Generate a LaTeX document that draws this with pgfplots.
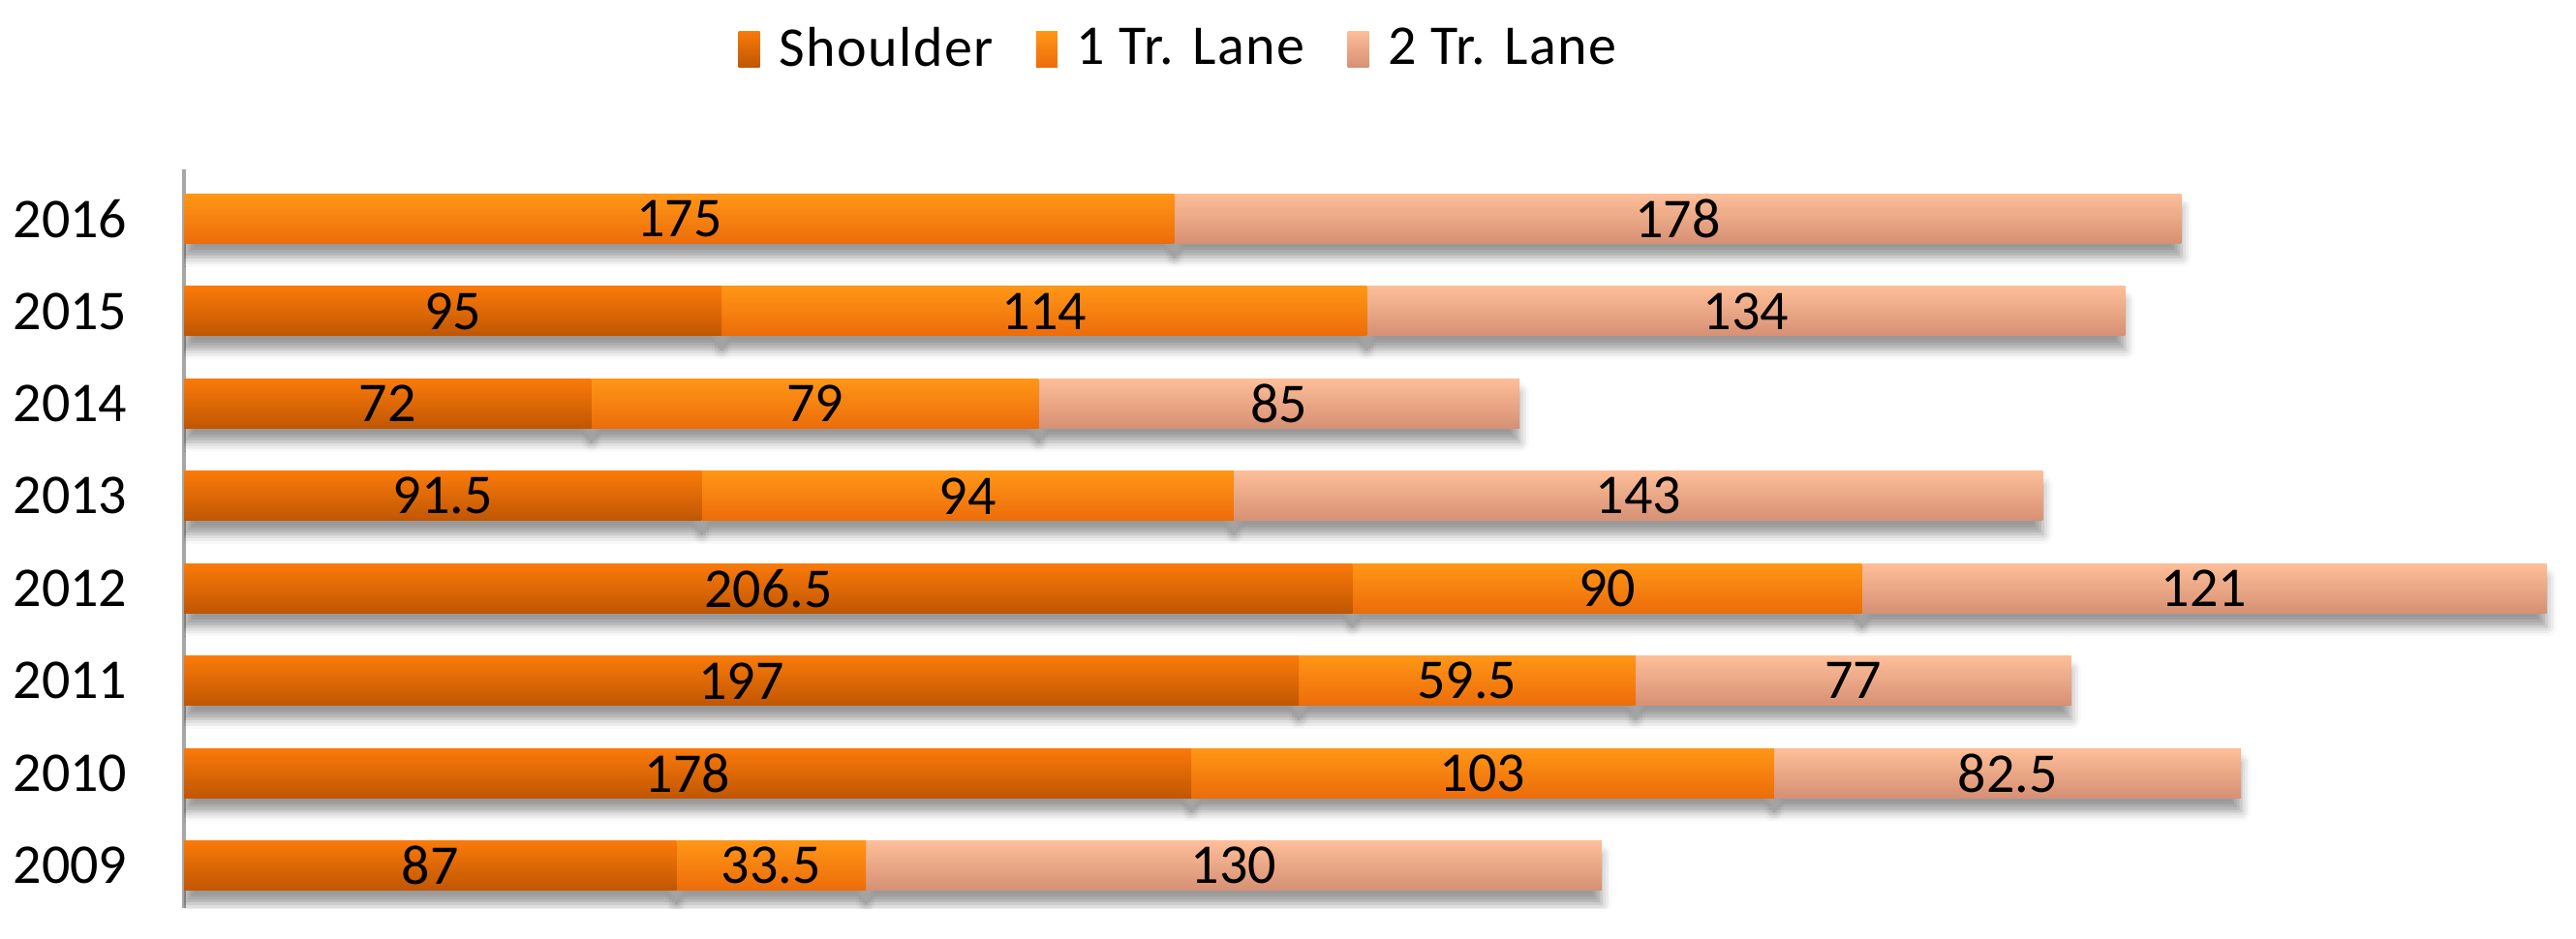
\documentclass[border=0pt]{standalone}
\usepackage{fontspec}
\setmainfont{Carlito}
\newfontfamily\legfont[LetterSpace=2.5]{Carlito}
\usepackage{pgfplots}
\usepackage{pgfplotstable}
\pgfplotsset{compat=1.18}
\usetikzlibrary{shadows.blur}

\definecolor{shTop}{RGB}{250,122,10}
\definecolor{shMid}{RGB}{228,106,8}
\definecolor{shBot}{RGB}{192,86,2}
\definecolor{laTop}{RGB}{255,150,22}
\definecolor{laMid}{RGB}{252,130,16}
\definecolor{laBot}{RGB}{236,108,10}
\definecolor{lbTop}{RGB}{253,190,152}
\definecolor{lbMid}{RGB}{248,172,136}
\definecolor{lbBot}{RGB}{214,144,116}
\definecolor{axgray}{RGB}{166,166,166}

\tikzset{
  shoulder/.style={top color=shTop, middle color=shMid, bottom color=shBot, draw=none},
  lane1/.style={top color=laTop, middle color=laMid, bottom color=laBot, draw=none},
  lane2/.style={top color=lbTop, middle color=lbMid, bottom color=lbBot, draw=none},
  barshadow/.style={draw=none, fill=white,
    blur shadow={shadow xshift=0pt, shadow yshift=-3.5pt, shadow blur radius=2.5pt, shadow opacity=40}},
}
\newcommand{\lblfont}{\fontsize{14.5}{17}\selectfont}

\pgfplotsset{
  frame/.style={scale only axis, width=615pt, height=190.75pt,
    xmin=0, xmax=421, ymin=2008.54, ymax=2016.535},
}

\pgfplotstableread{
year shoulder lane1 lane2
2009 87    33.5 130
2010 178   103  82.5
2011 197   59.5 77
2012 206.5 90   121
2013 91.5  94   143
2014 72    79   85
2015 95    114  134
2016 0     175  178
}\roadtable

\begin{document}
\begin{tikzpicture}
% axis line, year labels and legend
\begin{axis}[
    frame, name=main,
    axis x line=none,
    axis y line*=left,
    axis line style={draw=axgray, line width=1pt},
    ytick={2009,2010,2011,2012,2013,2014,2015,2016},
    yticklabels={2009,2010,2011,2012,2013,2014,2015,2016},
    major tick length=0pt,
    yticklabel style={inner sep=0pt, xshift=-14.5pt, font=\lblfont},
    legend style={at={(0.4187,1.1625)}, anchor=center, draw=none, fill=none,
        font=\fontsize{14.5}{17}\legfont, legend columns=3,
        /tikz/every odd column/.append style={column sep=3pt},
        /tikz/every even column/.append style={column sep=9pt}},
]
\addlegendimage{legend image code/.code={\path[shoulder] (0pt,-4.7pt) rectangle (5.5pt,4.7pt);}}
\addlegendentry{Shoulder}
\addlegendimage{legend image code/.code={\path[lane1] (0pt,-4.7pt) rectangle (5.5pt,4.7pt);}}
\addlegendentry{1 Tr. Lane}
\addlegendimage{legend image code/.code={\path[lane2] (0pt,-4.7pt) rectangle (5.5pt,4.7pt);}}
\addlegendentry{2 Tr. Lane}
\end{axis}

% one stacked bar per year, so that each segment gets its own gradient;
% pass 0 draws only the shadows, pass 1 the bars on top
% (2016 has no shoulder segment; a zero-width bar upsets the blurred shadow)
\foreach \pass in {0,1}{
\ifnum\pass=0
  \tikzset{segA/.style={barshadow}, segB/.style={barshadow}, segC/.style={barshadow}}
\else
  \tikzset{segA/.style={shoulder}, segB/.style={lane1}, segC/.style={lane2}}
\fi
\foreach \i [evaluate=\i as \j using int(\i+1)] in {0,...,7}{
\begin{axis}[frame, hide axis, xbar stacked, bar width=12.75pt,
    skip coords between index={0}{\i}, skip coords between index={\j}{8}]
\ifnum\i<7
\addplot[segA] table[x=shoulder, y=year] {\roadtable};
\fi
\addplot[segB] table[x=lane1, y=year] {\roadtable};
\addplot[segC] table[x=lane2, y=year] {\roadtable};
\end{axis}
}}

% value labels, centred in each segment
\begin{axis}[frame, hide axis]
\addplot[draw=none, mark=none, nodes near coords, point meta=explicit symbolic,
    every node near coord/.append style={anchor=center, font=\lblfont, text=black}]
coordinates {
    (43.5,2009) [87]      (103.75,2009) [33.5]  (185.5,2009) [130]
    (89,2010) [178]       (229.5,2010) [103]    (322.25,2010) [82.5]
    (98.5,2011) [197]     (226.75,2011) [59.5]  (295,2011) [77]
    (103.25,2012) [206.5] (251.5,2012) [90]     (357,2012) [121]
    (45.75,2013) [91.5]   (138.5,2013) [94]     (257,2013) [143]
    (36,2014) [72]        (111.5,2014) [79]     (193.5,2014) [85]
    (47.5,2015) [95]      (152,2015) [114]      (276,2015) [134]
    (87.5,2016) [175]     (264,2016) [178]
};
\end{axis}

\path (main.south west) ++(-47.5pt,-7.75pt);
\path (main.north east) ++(2.5pt,43.75pt);
\end{tikzpicture}
\end{document}
